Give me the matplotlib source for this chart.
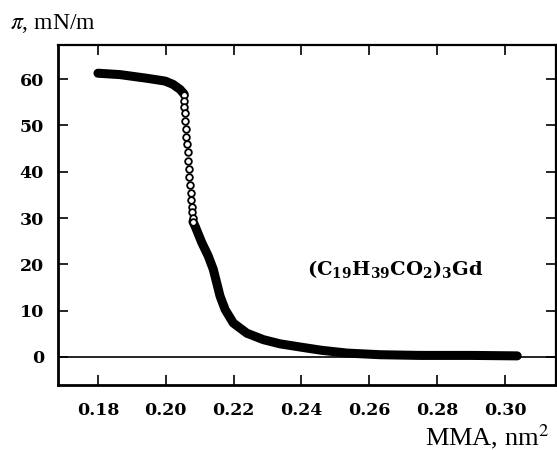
import numpy as np
import matplotlib
matplotlib.use("Agg")
import matplotlib.pyplot as plt

# surface pressure isotherm
# plateau before the collapse (dense points, drawn as a thick band)
mma_top = [0.1800, 0.1865, 0.1945, 0.1998, 0.2021, 0.2042, 0.2054]
pi_top = [61.3, 61.0, 60.2, 59.6, 58.9, 57.8, 56.8]

# steep part, where single circles are visible
mma_drop = [0.2053, 0.2054, 0.2055, 0.2056, 0.2057, 0.2059, 0.2061, 0.2063,
            0.2064, 0.2066, 0.2068, 0.2069, 0.2071, 0.2073, 0.2075, 0.2077,
            0.2078, 0.2079, 0.2080]
pi_drop = [56.5, 55.2, 54.0, 52.6, 51.0, 49.3, 47.6, 45.9,
           44.2, 42.4, 40.6, 38.9, 37.1, 35.4, 33.8, 32.4,
           31.2, 30.1, 29.2]

# liquid region and tail (dense again)
mma_tail = [0.2080, 0.2086, 0.2106, 0.2125, 0.2140, 0.2150, 0.2160, 0.2175,
            0.2199, 0.2239, 0.2288, 0.2337, 0.2406, 0.2460, 0.2535, 0.2632,
            0.2750, 0.2900, 0.3036]
pi_tail = [29.2, 28.3, 24.7, 21.8, 18.9, 16.0, 13.1, 10.2,
           7.3, 5.1, 3.7, 2.8, 2.0, 1.4, 0.8, 0.45,
           0.3, 0.3, 0.2]

x_ticks = [0.18, 0.20, 0.22, 0.24, 0.26, 0.28, 0.30]
y_ticks = [0, 10, 20, 30, 40, 50, 60]

fig = plt.figure(figsize=(5.57, 4.5), dpi=100)
ax = fig.add_axes([0.104, 0.1444, 0.894, 0.7556])

band = dict(color="black", linewidth=6.5, solid_capstyle="round",
            solid_joinstyle="round", zorder=3)
ax.plot(mma_top, pi_top, **band)
ax.plot(mma_tail, pi_tail, **band)
ax.plot(mma_drop, pi_drop, linestyle="none", marker="o", markersize=4.8,
        markerfacecolor="white", markeredgecolor="black",
        markeredgewidth=1.3, zorder=4)

ax.axhline(0, color="black", linewidth=1.2, zorder=2)

ax.set_xlim(0.1682, 0.315)
ax.set_ylim(-6.1, 67.4)
ax.set_xticks(x_ticks)
ax.set_yticks(y_ticks)
ax.set_xticklabels([f"{v:.2f}" for v in x_ticks])
ax.set_yticklabels([str(v) for v in y_ticks])

ax.tick_params(direction="in", top=True, right=True, length=7, width=1.2,
               labelsize=12.5, pad=10)
ax.tick_params(axis="x", pad=12)
for lbl in ax.get_xticklabels() + ax.get_yticklabels():
    lbl.set_fontfamily("DejaVu Serif")
    lbl.set_fontweight("bold")

for side, lw in [("left", 2.0), ("bottom", 2.0), ("top", 1.6), ("right", 1.6)]:
    ax.spines[side].set_linewidth(lw)

ax.text(0.2417, 18.9, r"$\mathbf{(C_{19}H_{39}CO_{2})_{3}Gd}$",
        fontsize=14, ha="left", va="center", math_fontfamily="dejavuserif")

fig.text(0.018, 0.936, r"$\pi$, mN/m", fontsize=17,
         fontfamily="Liberation Serif", math_fontfamily="stix",
         ha="left", va="baseline")
fig.text(0.763, 0.011, r"MMA, nm$^2$", fontsize=19,
         fontfamily="Liberation Serif", math_fontfamily="stix",
         ha="left", va="baseline")

fig.savefig("out.png", dpi=100)
